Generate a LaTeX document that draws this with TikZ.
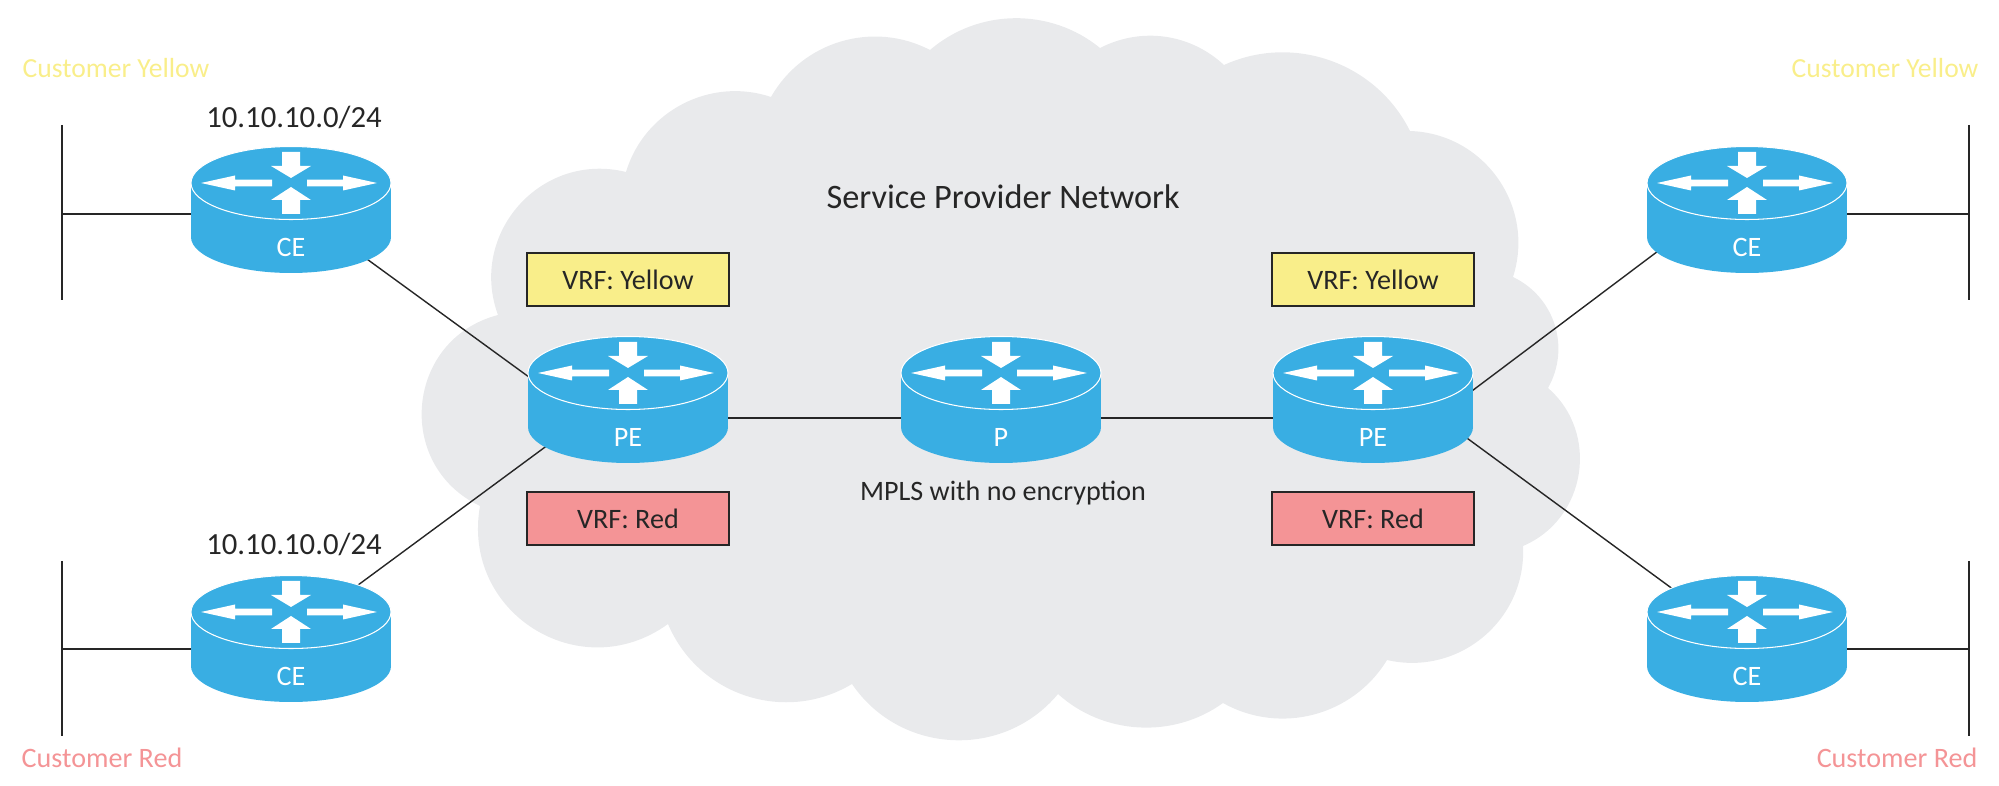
\documentclass[tikz,border=0pt]{standalone}
\usepackage{fontspec}
\setmainfont{Carlito}
\pgfdeclarelayer{back}
\pgfsetlayers{back,main}

\definecolor{cloudgray}{HTML}{E9EAEC}
\definecolor{routerblue}{HTML}{39AEE3}
\definecolor{vrfyellow}{HTML}{F9EE8A}
\definecolor{vrfred}{HTML}{F49496}

\tikzset{
    puff/.style 2 args={bend left=#1, looseness=#2},
    c_thin/.style={color=black!85, line width=0.8pt},
    c_core/.style={color=black!85, line width=1.7pt},
    t_main/.style={inner sep=0pt, text=black!85, font=\fontsize{19.5}{22}\selectfont},
    t_small/.style={inner sep=0pt, text=black!85, font=\fontsize{16}{18}\selectfont},
    t_net/.style={inner sep=0pt, text=black!85, font=\fontsize{17.5}{20}\selectfont},
    t_yellow/.style={inner sep=0pt, text=vrfyellow, font=\fontsize{15.7}{18}\selectfont},
    t_red/.style={inner sep=0pt, text=vrfred, font=\fontsize{16}{18}\selectfont},
    vrfbox/.style={draw=black!85, line width=0.7pt, minimum width=4.04cm, minimum height=1.06cm, inner sep=0pt, text=black!85, font=\fontsize{16}{18}\selectfont},
    router/.style={
        minimum width=4.04cm, minimum height=2.56cm, inner sep=0pt,
        text=white, text height=1.88cm, text depth=0pt, font=\fontsize{16}{18}\selectfont
    },
    routerbody/.pic={
        \fill[routerblue] (-100,-27) rectangle (100,27);
        \fill[routerblue] (0,27) ellipse (100 and 36);
        \fill[routerblue] (0,-27) ellipse (100 and 36.5);
        \draw[white, line width=0.6pt] (0,-27) ellipse (100 and 36.5);
        % arrows on top of the router
        \fill[white] (-9,-58) -- (9,-58) -- (9,-44) -- (20,-44) -- (0,-32) -- (-20,-44) -- (-9,-44) -- cycle;
        \fill[white] (-9,4) -- (9,4) -- (9,-10) -- (20,-10) -- (0,-23) -- (-20,-10) -- (-9,-10) -- cycle;
        \fill[white] (-19,-30.3) -- (-56,-30.3) -- (-56,-34.5) -- (-90,-27) -- (-56,-19.5) -- (-56,-23.7) -- (-19,-23.7) -- cycle;
        \fill[white] (16,-30.3) -- (52,-30.3) -- (52,-34.5) -- (86,-27) -- (52,-19.5) -- (52,-23.7) -- (16,-23.7) -- cycle;
    }
}

\begin{document}
\begin{tikzpicture}[x=0.02cm, y=-0.02cm]
    \useasboundingbox (0,0) rectangle (1999,786);

    % Draw cloud
    \begin{pgfonlayer}{back}
        \fill[cloudgray] (930,50) to[puff={40}{.96}] (1100,48) to[puff={35}{.95}] (1224,65)
            to[puff={44}{.99}] (1410,131) to[puff={53}{1.06}] (1513,277) to[puff={47}{1.02}] (1548,388)
            to[puff={58}{1.1}] (1523,546) to[puff={53}{1.06}] (1387,660) to[puff={44}{.99}] (1223,703)
            to[puff={39}{.95}] (1058,694) to[puff={53}{1.06}] (852,684) to[puff={49}{1.03}] (668,624)
            to[puff={68}{1.25}] (480,506) to[puff={70}{1.27}] (498,315) to[puff={62}{1.16}] (626,172)
            to[puff={46}{1}] (771,97) to[puff={44}{.99}] cycle;
    \end{pgfonlayer}

    % Define routers
    \foreach \name/\x/\y/\txt in {ce1/291/210/CE, ce2/291/639/CE, pe1/628/400/PE, p1/1001/400/P,
        pe2/1373/400/PE, ce3/1747/210/CE, ce4/1747/639/CE} {
        \pic at (\x,\y) {routerbody};
        \node[router] (\name) at (\x,\y) {\txt};
    }

    % Define customer segments
    \coordinate (bar1a) at (62,125);
    \coordinate (bar1b) at (62,300);
    \coordinate (bar1m) at (62,214);
    \coordinate (bar2a) at (62,561);
    \coordinate (bar2b) at (62,736);
    \coordinate (bar2m) at (62,649);
    \coordinate (bar3a) at (1969,125);
    \coordinate (bar3b) at (1969,300);
    \coordinate (bar3m) at (1969,214);
    \coordinate (bar4a) at (1969,561);
    \coordinate (bar4b) at (1969,736);
    \coordinate (bar4m) at (1969,649);

    % Draw links
    \begin{pgfonlayer}{back}
        \draw[c_thin] (bar1a) -- (bar1b);
        \draw[c_thin] (bar2a) -- (bar2b);
        \draw[c_thin] (bar3a) -- (bar3b);
        \draw[c_thin] (bar4a) -- (bar4b);
        \draw[c_thin] (bar1m) -- ([shift={(20,4)}]ce1.west);
        \draw[c_thin] (bar2m) -- ([shift={(20,10)}]ce2.west);
        \draw[c_thin] (bar3m) -- ([shift={(-20,4)}]ce3.east);
        \draw[c_thin] (bar4m) -- ([shift={(-20,10)}]ce4.east);
        \draw[c_thin] ([shift={(47,28)}]ce1.center) -- ([shift={(-73,-4)}]pe1.center);
        \draw[c_thin] ([shift={(40,-34)}]ce2.center) -- ([shift={(-53,25)}]pe1.center);
        \draw[c_thin] ([shift={(-57,17)}]ce3.center) -- ([shift={(67,15)}]pe2.center);
        \draw[c_thin] ([shift={(-47,-30)}]ce4.center) -- ([shift={(57,11)}]pe2.center);
        \draw[c_core] ([shift={(-20,18)}]pe1.east) -- ([shift={(20,18)}]p1.west);
        \draw[c_core] ([shift={(-20,18)}]p1.east) -- ([shift={(20,18)}]pe2.west);
    \end{pgfonlayer}

    % VRF boxes
    \node[vrfbox, fill=vrfyellow] (vrfy1) at (628,279.5) {VRF: Yellow};
    \node[vrfbox, fill=vrfred] (vrfr1) at (628,518.5) {VRF: Red};
    \node[vrfbox, fill=vrfyellow] (vrfy2) at (1373,279.5) {VRF: Yellow};
    \node[vrfbox, fill=vrfred] (vrfr2) at (1373,518.5) {VRF: Red};

    % Labels
    \node[t_main] (spn) at (1003,197) {Service Provider Network};
    \node[t_small] (mpls) at (1003,493) {MPLS with no encryption};
    \node[t_net] (net1) at (294,117) {10.10.10.0/24};
    \node[t_net] (net2) at (294,544) {10.10.10.0/24};
    \node[t_yellow] (cust1) at (116,68) {Customer Yellow};
    \node[t_yellow] (cust3) at (1885,68) {Customer Yellow};
    \node[t_red] (cust2) at (102,758) {Customer Red};
    \node[t_red] (cust4) at (1897,758) {Customer Red};
\end{tikzpicture}
\end{document}
